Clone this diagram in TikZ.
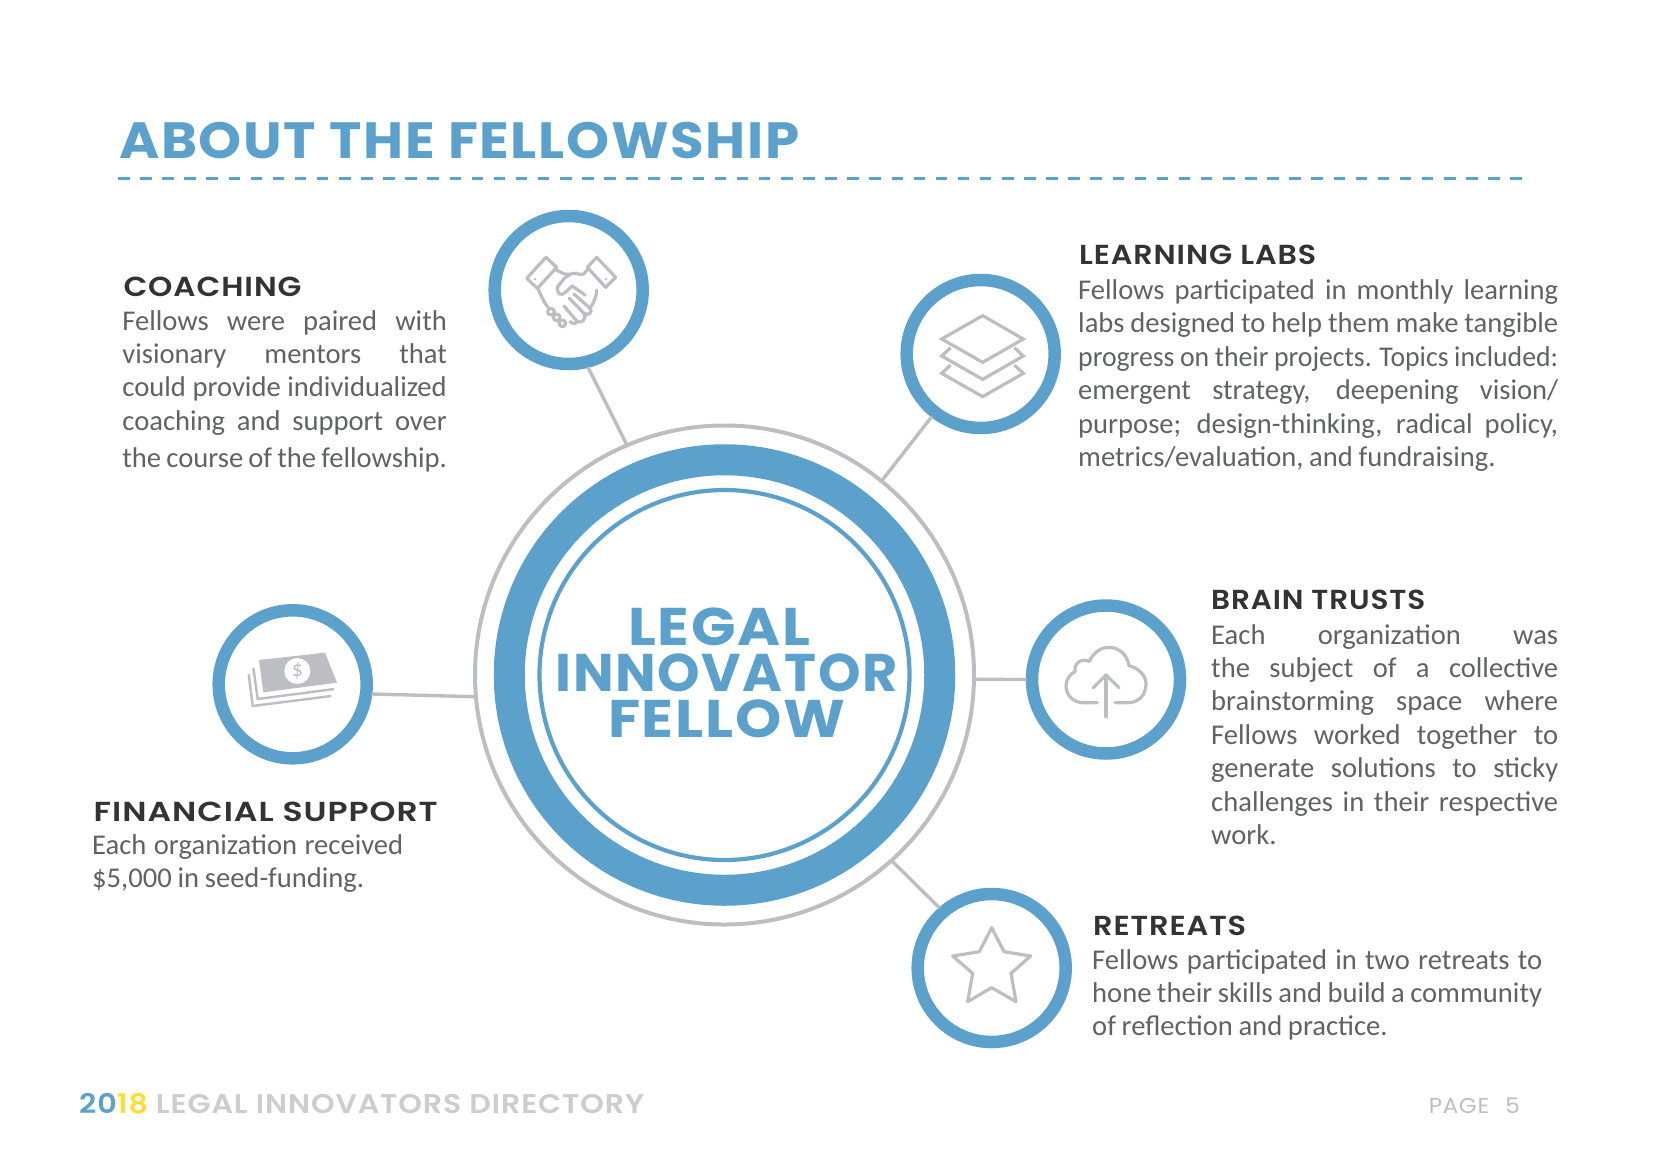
\documentclass[tikz,border=0pt]{standalone}
\usepackage{fontspec}
\usepackage{graphicx}
\setmainfont{Carlito}
\newfontfamily\headfont[BoldFont={Poppins SemiBold},LetterSpace=3]{Poppins}
\newfontfamily\bigfont[LetterSpace=3]{Poppins}
\definecolor{fblue}{HTML}{5BA1CB}
\definecolor{fgray}{HTML}{BDBEC3}
\definecolor{fdark}{HTML}{333335}
\definecolor{fbody}{HTML}{616264}
\definecolor{ffoot}{HTML}{CDCDCF}
\definecolor{fyellow}{HTML}{FFDD33}
\newcommand{\fitw}[2]{\resizebox{#1}{\height}{#2}}
\newcommand{\jline}[2]{\hbox to #1{#2}}
\newcommand{\pline}[1]{\hbox{#1}}
\newcommand{\bodyset}{\baselineskip=33.4pt\relax\spaceskip=.2em plus 3em minus .08em\relax}
\tikzset{
  spoke/.style={draw=fgray,line width=3.4pt},
  ringnode/.style={circle,draw=fblue,line width=12.5pt,fill=white,minimum size=148pt,inner sep=0pt,outer sep=5.4pt},
  icon/.style={draw=fgray,line width=3.2pt,line join=round,line cap=round},
  headtext/.style={anchor=base west,inner sep=0pt,text=fdark,font=\headfont\bfseries\fontsize{27.5}{27.5}\selectfont},
  bodytext/.style={anchor=base west,inner sep=0pt,text=fbody,font=\fontsize{28.6}{33.4}\selectfont},
}
\begin{document}
\begin{tikzpicture}[x=1pt,y=-1pt]
\useasboundingbox[fill=white] (0,0) rectangle (1653,1165);
% title
\node[anchor=base west,inner sep=0pt,text=fblue,font=\bigfont\bfseries\fontsize{51}{51}\selectfont] (title) at (119,158.3) {\fitw{680pt}{ABOUT THE FELLOWSHIP}};
\coordinate (ruleL) at (118,178.7);
\coordinate (ruleR) at (1522,178.7);
\draw[fblue,line width=2.8pt,dash pattern=on 11.5pt off 10.6pt] (ruleL) -- (ruleR);
% hub
\node[circle,draw=fgray,line width=4pt,minimum size=499pt,inner sep=0pt,outer sep=0pt,fill=white] (hub) at (724.5,675) {};
\node[circle,draw=fblue,line width=31pt,minimum size=430.5pt,inner sep=0pt,fill=white] (band) at (724.5,675) {};
\node[circle,draw=fblue,line width=4.2pt,minimum size=370pt,inner sep=0pt,fill=white] (inner) at (724.5,675) {};
\node[anchor=base,inner sep=0pt,text=fblue,font=\bigfont\bfseries\fontsize{53}{53}\selectfont] (hubtext) at (726.5,645) {\parbox[t]{360pt}{\baselineskip=46pt
  \hbox to 360pt{\hfil\fitw{182pt}{LEGAL}\hspace{15pt}\hfil}
  \hbox to 360pt{\hfil\fitw{342pt}{INNOVATOR}\hfil}
  \hbox to 360pt{\hfil\fitw{237pt}{FELLOW}\hfil}}};
% satellites
\node[ringnode] (coach) at (568.7,290) {};
\node[ringnode] (labs) at (980.7,354) {};
\node[ringnode] (money) at (292.7,684.3) {};
\node[ringnode] (brain) at (1106,679.5) {};
\node[ringnode] (retreat) at (991.7,968) {};
% connectors
\draw[spoke] (coach.-76) -- (hub.113.9);
\draw[spoke] (labs.232.7) -- (hub.51.1);
\draw[spoke] (money.-7) -- (hub.185.1);
\draw[spoke] (brain.180) -- (hub.-1.6);
\draw[spoke] (retreat.131.4) -- (hub.-48.5);
% handshake icon
\begin{scope}[shift={(440,180)},x=.33333pt,y=-.33333pt]
  \draw[icon] (260,295) -- (318,232) -- (350,262) -- (292,325) -- cycle;
  \draw[icon] (470,232) -- (527,292) -- (497,322) -- (442,262) -- cycle;
  \fill[fgray] (285,298) circle (4) (498,297) circle (4);
  \draw[icon] (345,268) .. controls (360,275) and (372,285) .. (390,283);
  \draw[icon] (445,266) -- (430,283) .. controls (415,285) and (405,275) .. (390,283) -- (372,296) -- (352,322) .. controls (350,340) and (362,350) .. (375,338) -- (397,318) -- (435,345);
  \draw[icon] (470,330) .. controls (470,350) and (460,370) .. (450,385) .. controls (460,395) and (445,410) .. (432,400) .. controls (440,420) and (425,430) .. (412,425) .. controls (405,435) and (395,430) .. (390,425);
  \draw[icon] (450,385) -- (402,342);
  \draw[icon] (432,400) -- (388,355);
  \draw[icon] (412,425) -- (372,378);
  \draw[icon] (295,328) .. controls (302,345) and (310,365) .. (325,383);
  \draw[icon] (333,395) circle (10);
  \draw[icon] (350,412) circle (10);
  \draw[icon] (367,430) circle (10);
\end{scope}
% layers icon
\begin{scope}[shift={(880,260)},x=.33333pt,y=-.33333pt]
  \draw[icon,line cap=butt,line join=miter] (308,167) -- (430,237) -- (308,307) -- (185,237) -- cycle;
  \draw[icon,line cap=butt,line join=miter] (212,263) -- (185,288) -- (308,358) -- (430,288) -- (403,263);
  \draw[icon,line cap=butt,line join=miter] (212,315) -- (185,340) -- (308,410) -- (430,340) -- (403,315);
\end{scope}
% money icon
\begin{scope}[shift={(200,600)},x=.33333pt,y=-.33333pt]
  \fill[fgray] (177,180) -- (375,158) -- (411,248) -- (190,277) -- cycle;
  \draw[fgray,line width=2.4pt] (160,203) -- (173,297) -- (403,267);
  \draw[fgray,line width=2.4pt] (146,223) -- (158,318) -- (393,288);
  \node[circle,fill=white,inner sep=0pt,minimum size=26pt,text=fgray,font=\fontsize{22}{22}\selectfont] (dollar) at (292,213) {\$};
\end{scope}
% cloud icon
\begin{scope}[shift={(1020,600)},x=.33333pt,y=-.33333pt]
  \draw[icon] (232,308) -- (190,308) .. controls (160,308) and (138,285) .. (138,258) .. controls (138,238) and (150,222) .. (165,215) .. controls (160,195) and (180,172) .. (208,184) .. controls (222,155) and (245,142) .. (265,142) .. controls (298,142) and (322,165) .. (327,197) .. controls (358,205) and (378,228) .. (378,252) .. controls (378,285) and (355,308) .. (325,308) -- (285,308);
  \draw[icon] (258,350) -- (258,225);
  \draw[icon] (220,263) -- (258,225) -- (297,263);
\end{scope}
% star icon
\begin{scope}[shift={(910,890)},x=.33333pt,y=-.33333pt]
  \draw[icon] (245,113) -- (282,185) -- (362,198) -- (303,250) -- (318,335) -- (245,293) -- (173,335) -- (188,250) -- (128,198) -- (208,185) -- cycle;
\end{scope}
% texts
\node[headtext] (h1) at (123.3,296.7) {\fitw{178pt}{COACHING}};
\node[bodytext] (b1) at (122.2,330) {\parbox[t]{324.5pt}{\bodyset
  \jline{324.5pt}{Fellows were paired with}
  \jline{324.5pt}{visionary mentors that}
  \jline{324.5pt}{could provide individualized}
  \jline{324.5pt}{coaching and support over}
  \vspace{3.4pt}
  \jline{324.5pt}{the course of the fellowship.}}};
\node[headtext] (h2) at (1079,264) {\fitw{237pt}{LEARNING LABS}};
\node[bodytext] (b2) at (1078,299.5) {\parbox[t]{480pt}{\bodyset
  \jline{480pt}{Fellows participated in monthly learning}
  \jline{480pt}{labs designed to help them make tangible}
  \jline{480pt}{\fitw{480pt}{progress on their projects. Topics included:}}
  \jline{480pt}{emergent strategy, deepening vision/}
  \jline{480pt}{purpose; design-thinking, radical policy,}
  \pline{metrics/evaluation, and fundraising.}}};
\node[headtext] (h3) at (1211,609) {\fitw{214pt}{BRAIN TRUSTS}};
\node[bodytext] (b3) at (1211,644) {\parbox[t]{347pt}{\bodyset
  \jline{347pt}{Each organization was}
  \jline{347pt}{the subject of a collective}
  \jline{347pt}{brainstorming space where}
  \jline{347pt}{Fellows worked together to}
  \jline{347pt}{generate solutions to sticky}
  \jline{347pt}{challenges in their respective}
  \pline{work.}}};
\node[headtext] (h4) at (1093,935) {\fitw{153pt}{RETREATS}};
\node[bodytext] (b4) at (1092,969) {\parbox[t]{450pt}{\bodyset
  \jline{450pt}{Fellows participated in two retreats to}
  \jline{450pt}{hone their skills and build a community}
  \pline{of reflection and practice.}}};
\node[headtext] (h5) at (93.5,821) {\fitw{344pt}{FINANCIAL SUPPORT}};
\node[bodytext] (b5) at (92,854.5) {\parbox[t]{400pt}{\bodyset
  \jline{311pt}{Each organization received}
  \pline{\$5,000 in seed-funding.}}};
% footer
\node[anchor=base west,inner sep=0pt,text=ffoot,font=\headfont\bfseries\fontsize{27}{27}\selectfont] (foot) at (79,1113) {\fitw{565pt}{\textcolor{fblue}{20}\textcolor{fyellow}{18} LEGAL INNOVATORS DIRECTORY}};
\node[anchor=base east,inner sep=0pt,text=fgray,font=\headfont\fontsize{21.5}{21.5}\selectfont] (page) at (1520,1113.5) {\fitw{91pt}{PAGE\hspace{15pt}5}};
\end{tikzpicture}
\end{document}
